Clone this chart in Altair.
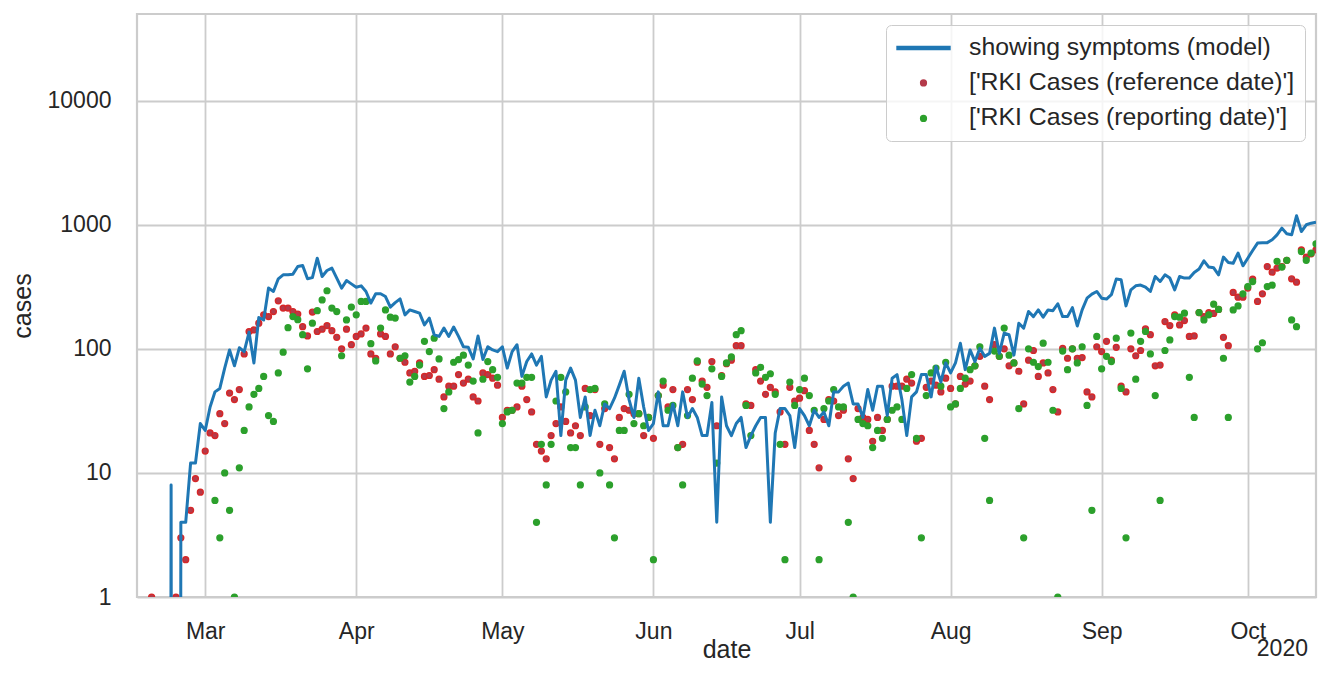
import altair as alt
import pandas as pd

LINE_NAME = "showing symptoms (model)"
REF_NAME = "['RKI Cases (reference date)']"
REP_NAME = "['RKI Cases (reporting date)']"
N = None

START = "2020-02-16"

# ---- model: showing symptoms (one value per day from Feb 16) ----
model_feb = [0, 0, 0, 0, 0, 0, 0, 8, 0, 4, 4, 12, 12, 25]
model_mar = [22, 34, 45, 48, 70, 98, 73, 102, 95, 136, 77, 179, 171, 309, 290, 367, 395, 395, 400, 461,
             470, 367, 375, 538, 383, 428, 448, 372, 309, 355, 334]
model_apr = [314, 322, 290, 234, 278, 278, 264, 217, 236, 253, 188, 206, 200, 194, 156, 177, 130, 126, 147, 126,
             150, 126, 104, 103, 83, 127, 82, 104, 98, 95]
model_may = [104, 70, 95, 108, 60, 79, 91, 74, 87, 41, 56, 66, 20, 56, 70, 56, 28, 41, 20, 32,
             24, 36, 33, 40, 51, 66, 39, 28, 58, 34, 22]
model_jun = [25, 45, 24, 24, 36, 24, 45, 28, 33, 28, 20, 20, 37, 4, 41, 24, 20, 25, 28, 16,
             20, 24, 28, 28, 4, 21, 33, 33, 29, 16]
model_jul = [33, 29, 24, 32, 28, 31, 24, 45, 45, 50, 53, 36, 36, 28, 47, 32, 50, 50, 29, 58,
             62, 39, 20, 41, 45, 62, 62, 41, 72, 54, 77]
model_aug = [64, 77, 111, 68, 98, 79, 101, 87, 92, 147, 92, 134, 130, 89, 161, 147, 200, 182, 206, 180,
             206, 203, 231, 182, 182, 215, 153, 206, 256, 276, 290]
model_sep = [256, 252, 273, 365, 360, 222, 299, 322, 327, 314, 290, 383, 349, 395, 372, 299, 383, 372, 372, 413,
             440, 512, 456, 450, 395, 549, 497, 490, 592, 467]
model_oct = [538, 621, 712, 718, 718, 757, 830, 940, 846, 830, 1182, 883, 1000, 1030, 1050]

# ---- RKI cases by reference date ----
ref_feb = [N, N, N, 1, N, N, N, N, 1, 3, 2, 5, 9, 7]
ref_mar = [15, 21, 20, 30, 25, 44, 39, 47, 91, 138, 142, 161, 188, 182, 200, 244, 213, 213, 200, 191,
           151, 127, 198, 138, 144, 154, 140, 124, 100, 144, 108]
ref_apr = [126, 132, 147, 91, 84, 132, 126, 91, 104, 84, 78, 64, 66, 77, 60, 61, 68, 57, 41, 50,
           50, 62, 53, 57, 41, 38, 64, 62, 58, 51]
ref_may = [28, 32, 32, 34, 50, 39, 31, 17, 15, 13, 20, 25, 34, 26, 21, 24, 20, 48, 29, 47,
           17, 33, 16, 13, 28, 33, 32, 30, 30, 20, 28]
ref_jun = [19, 42, 51, 34, 47, 16, 17, 47, 39, 78, 55, 49, 79, 24, 61, 76, 81, 106, 106, 36,
           35, 68, 55, 43, 49, 45, 31, 17, 49, 38]
ref_jul = [40, 46, 22, 17, 11, 27, 39, 38, 29, 32, 13, 9, 33, 28, 27, 18, 28, 22, 27, 50,
           50, 50, 57, 53, 18, 19, 49, 55, 51, 45, 58]
ref_aug = [48, 36, 60, 52, 55, 73, 87, 50, 39, 108, 87, 100, 73, 77, 66, 36, 81, 97, 60, 77,
           64, 47, 31, 101, 84, 100, 84, 85, 45, 41, 104]
ref_sep = [95, 115, 81, 103, 50, 45, 100, 88, 97, 145, 130, 73, 74, 166, 154, 188, 156, 169, 126, 127,
           196, 182, 196, 193, 208, 124, 106, 285, 261, 261]
ref_oct = [309, 365, 241, 278, 461, 415, 448, 461, 517, 367, 345, 628, 548, 584, 628]

# ---- RKI cases by reporting date ----
rep_feb = [N] * 14
rep_mar = [N, N, 6, 3, 10, 5, 1, 11, 22, 34, 43, 48, 60, 29, 26, 64, 94, 148, 182, 172,
           130, 69, 161, 203, 248, 294, 213, 200, 88, 171, 217]
rep_apr = [188, 241, 241, 110, 80, 147, 206, 180, 177, 84, 88, 54, 60, 74, 115, 95, 122, 83, 33, 45,
           78, 82, 89, 74, 55, 21, 57, 79, 68, 59]
rep_may = [25, 31, 32, 53, 53, 59, 59, 4, 17, 8, 17, 38, 59, 45, 16, 16, 8, 34, 47, 48,
           10, 36, 8, 3, 22, 22, 43, 25, 30, 24, 28]
rep_jun = [2, 42, 55, 32, 35, 16, 8, 29, 58, 80, 52, 42, 69, 12, 60, 77, 86, 130, 140, 35,
           20, 64, 71, 59, 63, 43, 17, 2, 54, 35]
rep_jul = [47, 58, 42, 32, 2, 33, 38, 47, 34, 34, 4, 1, 27, 25, 24, 16, 22, 19, 27, 32,
           34, 27, 48, 62, 19, 3, 42, 64, 70, 50, 78]
rep_aug = [34, 36, 48, 58, 68, 73, 104, 19, 6, 96, 87, 147, 89, 77, 33, 3, 100, 78, 72, 111,
           78, 32, 1, 96, 68, 100, 77, 104, 35, 5, 126]
rep_sep = [69, 87, 79, 122, 48, 3, 134, 57, 115, 138, 91, 42, 6, 97, 118, 182, 180, 194, 59, 28,
           196, 171, 188, 229, 208, 84, 28, 206, 222, 278]
rep_oct = [318, 349, 100, 112, 318, 326, 508, 456, 517, 171, 151, 609, 517, 592, 703]

model = model_feb + model_mar + model_apr + model_may + model_jun + model_jul + model_aug + model_sep + model_oct
ref = ref_feb + ref_mar + ref_apr + ref_may + ref_jun + ref_jul + ref_aug + ref_sep + ref_oct
rep = rep_feb + rep_mar + rep_apr + rep_may + rep_jun + rep_jul + rep_aug + rep_sep + rep_oct

Y_TICKS = [1, 10, 100, 1000, 10000]
MONTH_TICKS = [alt.DateTime(year=2020, month=m, date=1) for m in range(3, 11)]
YEAR_LABEL = "2020"

NAMES = [LINE_NAME, REF_NAME, REP_NAME]
FILL_COLORS = ["#1f77b4", "#b43a4a", "#2ca02c"]
EDGE_COLORS = ["transparent", "#d62728", "#2ca02c"]
# legend symbol: a thin wide bar for the model line, dots for the RKI series
LINE_SYMBOL = "M-2.208,-0.125H2.208V0.125H-2.208Z"
SHAPES = [LINE_SYMBOL, "circle", "circle"]
SIZES = [576, 34, 34]

dates = pd.date_range(START, periods=len(model), freq="D")
assert len(model) == len(ref) == len(rep) == len(dates)

# zeros on a log axis fall far below the frame (like matplotlib's clipping)
line_df = pd.DataFrame({
    "date": dates,
    "series": LINE_NAME,
    "cases": [v if v > 0 else 1e-30 for v in model],
})
ref_df = pd.DataFrame({"date": dates, "series": REF_NAME, "cases": ref}).dropna()
rep_df = pd.DataFrame({"date": dates, "series": REP_NAME, "cases": rep}).dropna()
year_df = pd.DataFrame({"date": [dates[-1]], "label": [YEAR_LABEL]})

FONT = "Liberation Sans"
TXT = "#262626"
W, H = 1179, 583

x_enc = alt.X(
    "date:T",
    scale=alt.Scale(domain=[alt.DateTime(year=2020, month=2, date=16),
                            alt.DateTime(year=2020, month=10, date=15)], nice=False),
    axis=alt.Axis(values=MONTH_TICKS, format="%b", title="date", labelBaseline="alphabetic",
                  labelPadding=41, labelOverlap=False, labelFlush=False,
                  titleX=W / 2, titleY=60, titleBaseline="alphabetic", titleAlign="center"),
)
y_enc = alt.Y(
    "cases:Q",
    scale=alt.Scale(type="log", domain=[1, 50000], nice=False),
    axis=alt.Axis(values=Y_TICKS, format="d", title="cases", labelPadding=26,
                  titleX=-115, titleY=H / 2, titleAngle=270, titleAlign="center",
                  titleBaseline="middle"),
)

legend = alt.Legend(
    title=None, orient="top-right", offset=11,
    labelFont=FONT, labelFontSize=24.8, labelColor=TXT, labelLimit=0,
    symbolStrokeWidth=1.4, symbolOpacity=1, symbolOffset=14.5,
    padding=10, rowPadding=9.5, labelOffset=32.5,
    fillColor="rgba(255,255,255,0.8)", strokeColor="#cccccc", cornerRadius=5,
)
color_enc = alt.Color("series:N", scale=alt.Scale(domain=NAMES, range=FILL_COLORS), legend=legend)
stroke_enc = alt.Stroke("series:N", scale=alt.Scale(domain=NAMES, range=EDGE_COLORS), legend=legend)
shape_enc = alt.Shape("series:N", scale=alt.Scale(domain=NAMES, range=SHAPES), legend=legend)
size_enc = alt.Size("series:N", scale=alt.Scale(type="ordinal", domain=NAMES, range=SIZES), legend=legend)

ref_layer = alt.Chart(ref_df).mark_point(filled=True, opacity=1, strokeWidth=1.4, clip=True).encode(
    x=x_enc, y=y_enc, color=color_enc, stroke=stroke_enc, shape=shape_enc, size=size_enc)
rep_layer = alt.Chart(rep_df).mark_point(filled=True, opacity=1, strokeWidth=1.4, clip=True).encode(
    x=x_enc, y=y_enc, color=color_enc, stroke=stroke_enc, shape=shape_enc, size=size_enc)
line_layer = alt.Chart(line_df).mark_line(strokeWidth=3, clip=True, strokeJoin="round").encode(
    x=x_enc, y=y_enc, color=color_enc)
year_layer = alt.Chart(year_df).mark_text(align="right", baseline="alphabetic", dx=-8,
                                          font=FONT, fontSize=23, color=TXT).encode(
    x=alt.X("date:T"), y=alt.value(H + 59), text="label:N")

chart = alt.layer(ref_layer, rep_layer, line_layer, year_layer).properties(
    width=W, height=H,
    autosize=alt.AutoSizeParams(type="none"),
    padding={"left": 129, "top": 6, "right": 3, "bottom": 66},
).configure(
    background="white",
).configure_axis(
    labelFont=FONT, labelFontSize=23, labelColor=TXT,
    titleFont=FONT, titleFontSize=25, titleFontWeight="normal", titleColor=TXT,
    gridColor="#cccccc", gridWidth=1.8, domain=False, ticks=False, tickSize=0,
).configure_view(
    stroke="#cccccc", strokeWidth=2.2,
)

chart.save("out.html", embed_options={"renderer": "svg", "actions": False})
